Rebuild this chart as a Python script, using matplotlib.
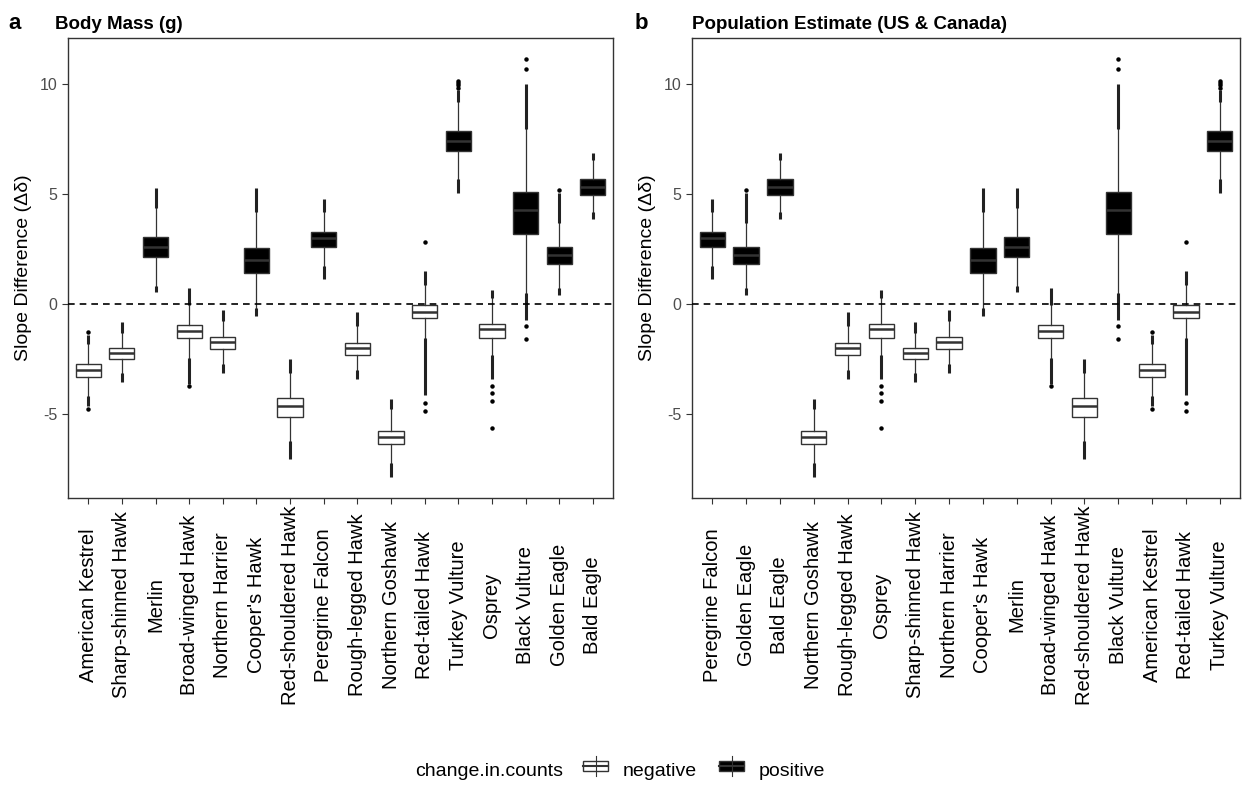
import numpy as np
import matplotlib
matplotlib.use("Agg")
import matplotlib.pyplot as plt
from matplotlib.patches import Rectangle
from matplotlib.lines import Line2D

plt.rcParams["font.family"] = ["Liberation Sans", "DejaVu Sans"]

# bootstrap slope differences per species (box stats read as quantiles)
species = ["American Kestrel", "Sharp-shinned Hawk", "Merlin", "Broad-winged Hawk",
           "Northern Harrier", "Cooper's Hawk", "Red-shouldered Hawk", "Peregrine Falcon",
           "Rough-legged Hawk", "Northern Goshawk", "Red-tailed Hawk", "Turkey Vulture",
           "Osprey", "Black Vulture", "Golden Eagle", "Bald Eagle"]
q1 = [-3.34, -2.51, 2.13, -1.56, -2.04, 1.40, -5.12, 2.60, -2.33, -6.37, -0.66, 6.95, -1.56, 3.20, 1.83, 4.97]
med = [-3.01, -2.22, 2.60, -1.21, -1.74, 1.99, -4.65, 2.99, -2.01, -6.04, -0.35, 7.40, -1.13, 4.26, 2.24, 5.33]
q3 = [-2.72, -2.01, 3.04, -0.95, -1.48, 2.55, -4.27, 3.28, -1.78, -5.76, -0.06, 7.85, -0.89, 5.11, 2.61, 5.66]
whislo = [-4.18, -3.13, 0.80, -2.45, -2.75, -0.18, -6.22, 1.74, -2.98, -7.21, -1.54, 5.66, -2.34, 0.50, 0.73, 4.20]
whishi = [-1.84, -1.31, 4.35, -0.05, -0.79, 4.20, -3.13, 4.20, -1.01, -4.79, 0.88, 9.18, 0.27, 7.93, 3.70, 6.54]
# range covered by the packed run of outliers beyond each whisker
dense_lo = [-4.64, -3.55, 0.53, -3.66, -3.13, -0.56, -7.05, 1.15, -3.43, -7.86, -4.15, 5.03, -3.43, -0.71, 0.39, 3.85]
dense_hi = [-1.39, -0.83, 5.29, 0.72, -0.29, 5.26, -2.52, 4.76, -0.36, -4.34, 1.51, 9.71, 0.62, 10.02, 5.03, 6.84]
# isolated outliers
sparse = [[-1.27, -4.76], [], [], [-3.73], [], [], [], [], [], [],
          [2.82, -4.49, -4.86], [10.14, 10.05, 9.94, 9.83], [-3.73, -4.03, -4.41, -5.62],
          [11.15, 10.7, -1.01, -1.59], [5.18], []]

order_a = species
order_b = ["Peregrine Falcon", "Golden Eagle", "Bald Eagle", "Northern Goshawk",
           "Rough-legged Hawk", "Osprey", "Sharp-shinned Hawk", "Northern Harrier",
           "Cooper's Hawk", "Merlin", "Broad-winged Hawk", "Red-shouldered Hawk",
           "Black Vulture", "American Kestrel", "Red-tailed Hawk", "Turkey Vulture"]

edge = "#333333"


def draw_panel(ax, order):
    for pos, name in enumerate(order):
        i = species.index(name)
        fill = "black" if med[i] > 0 else "white"
        st = dict(med=med[i], q1=q1[i], q3=q3[i], whislo=whislo[i], whishi=whishi[i],
                  fliers=sparse[i])
        ax.bxp([st], positions=[pos], widths=0.75, patch_artist=True, showcaps=False,
               boxprops=dict(facecolor=fill, edgecolor=edge, linewidth=1.0),
               medianprops=dict(color=edge, linewidth=1.8),
               whiskerprops=dict(color=edge, linewidth=0.9),
               flierprops=dict(marker="o", markersize=2.2, markerfacecolor="black",
                               markeredgecolor="black", linestyle="none"),
               zorder=2)
        if dense_hi[i] > whishi[i]:
            ax.vlines(pos, whishi[i], dense_hi[i], color="#222222", linewidth=2.2, zorder=2)
        if dense_lo[i] < whislo[i]:
            ax.vlines(pos, dense_lo[i], whislo[i], color="#222222", linewidth=2.2, zorder=2)
    ax.axhline(0, color="black", linestyle=(0, (4, 3)), linewidth=1.2, zorder=3)
    ax.set_xlim(-0.6, len(order) - 0.4)
    ax.set_ylim(-8.82, 12.09)
    ax.set_yticks([-5, 0, 5, 10])
    ax.set_yticklabels(["-5", "0", "5", "10"])
    ax.set_xticks(range(len(order)))
    ax.set_xticklabels(order, rotation=90, fontsize=14.5, color="black")
    # species names are centred on a common line below the axis
    for lab in ax.get_xticklabels():
        lab.set_va("center")
        lab.set_ha("center")
    ax.tick_params(axis="y", labelsize=11.5, labelcolor="#4D4D4D", color="#333333",
                   length=4, width=0.8)
    ax.tick_params(axis="x", color="#333333", length=4, width=0.8, pad=73)
    for s in ax.spines.values():
        s.set_color("#333333")
        s.set_linewidth(1.0)
    ax.set_ylabel("Slope Difference (Δδ)", fontsize=14, labelpad=6)


fig = plt.figure(figsize=(12.44, 7.86), dpi=100)
ax1 = fig.add_axes([0.0547, 0.3664, 0.4381, 0.5853])
ax2 = fig.add_axes([0.5563, 0.3664, 0.4405, 0.5853])
draw_panel(ax1, order_a)
draw_panel(ax2, order_b)

fig.text(0.007, 0.963, "a", fontsize=16, fontweight="bold", va="baseline")
fig.text(0.0445, 0.963, "Body Mass (g)", fontsize=13.5, fontweight="bold", va="baseline")
fig.text(0.510, 0.963, "b", fontsize=16, fontweight="bold", va="baseline")
fig.text(0.5563, 0.963, "Population Estimate (US & Canada)", fontsize=13.5,
         fontweight="bold", va="baseline")

# legend along the bottom
fig.text(415 / 1244, 1 - 772 / 786, "change.in.counts", fontsize=14, va="center")
for x0, fill, lab in [(583, "white", "negative"), (719, "black", "positive")]:
    xc = (x0 + 12.5) / 1244
    fig.add_artist(Line2D([xc, xc], [1 - 756 / 786, 1 - 776 / 786], color=edge,
                          linewidth=0.8, transform=fig.transFigure))
    fig.add_artist(Rectangle((x0 / 1244, 1 - 771 / 786), 25 / 1244, 10 / 786,
                             facecolor=fill, edgecolor=edge, linewidth=1.0,
                             transform=fig.transFigure))
    fig.add_artist(Line2D([x0 / 1244, (x0 + 25) / 1244], [1 - 766 / 786, 1 - 766 / 786],
                          color=edge, linewidth=1.5, transform=fig.transFigure))
    fig.text((x0 + 40) / 1244, 1 - 772 / 786, lab, fontsize=14, va="center")

fig.savefig("out.png", dpi=100)
